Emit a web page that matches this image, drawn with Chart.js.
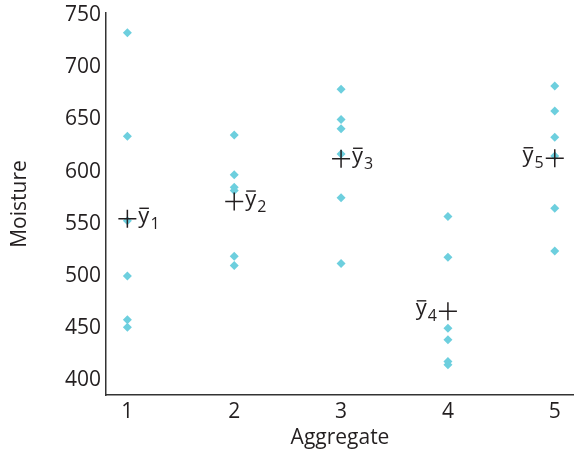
<!DOCTYPE html>
<html>
<head>
<meta charset="utf-8">
<script src="https://cdn.jsdelivr.net/npm/chart.js@4"></script>
<style>
  body { margin: 0; background: #fff; }
  #chart { display: block; }
</style>
</head>
<body>
<canvas id="chart" width="574" height="453"></canvas>
<script>
// Moisture readings per aggregate
const aggregates = [1, 2, 3, 4, 5];
const aggregate1 = [733, 634, 553, 500, 458, 451];
const aggregate2 = [635, 597, 585, 582, 519, 510];
const aggregate3 = [679, 650, 641, 617, 575, 512];
const aggregate4 = [557, 518, 450, 439, 418, 415];
const aggregate5 = [682, 658, 633, 615, 565, 524];
const yTicks = [400, 450, 500, 550, 600, 650, 700, 750];

const groups = [aggregate1, aggregate2, aggregate3, aggregate4, aggregate5];
const means = groups.map(g => g.reduce((a, b) => a + b, 0) / g.length);

const points = [];
groups.forEach((g, i) => {
    g.forEach(v => points.push({ x: aggregates[i], y: v }));
});
const meanPoints = means.map((m, i) => ({ x: aggregates[i], y: m }));

const textColor = '#231f20';
const fontFamily = '"Open Sans", "DejaVu Sans", sans-serif';

// draws the y-bar labels next to the mean crosses
const meanLabels = {
    id: 'meanLabels',
    afterDatasetsDraw(chart) {
        const { ctx, scales: { x, y } } = chart;
        const sides = ['right', 'right', 'right', 'left', 'left'];
        means.forEach((m, i) => {
            const px = x.getPixelForValue(aggregates[i]);
            const py = y.getPixelForValue(m);
            ctx.save();
            ctx.fillStyle = textColor;
            ctx.textBaseline = 'alphabetic';
            ctx.textAlign = 'left';
            ctx.font = '22px ' + fontFamily;
            const yw = ctx.measureText('y').width;
            ctx.font = '16px ' + fontFamily;
            const sub = String(aggregates[i]);
            const sw = ctx.measureText(sub).width;
            const total = yw + 1 + sw;
            const x0 = sides[i] === 'right' ? px + 11 : px - 11 - total;
            ctx.font = '22px ' + fontFamily;
            ctx.fillText('y', x0, py + 4);
            ctx.strokeStyle = textColor;
            ctx.lineWidth = 1.4;
            ctx.beginPath();
            ctx.moveTo(x0 + 1, py - 10.5);
            ctx.lineTo(x0 + yw - 0.5, py - 10.5);
            ctx.stroke();
            ctx.font = '16px ' + fontFamily;
            ctx.fillText(sub, x0 + yw + 1, py + 10);
            ctx.restore();
        });
    }
};

new Chart(document.getElementById('chart'), {
    type: 'scatter',
    data: {
        datasets: [
            {
                label: 'Mean',
                data: meanPoints,
                pointStyle: 'cross',
                pointRadius: 9,
                borderColor: textColor,
                borderWidth: 1.5
            },
            {
                label: 'Moisture',
                data: points,
                pointStyle: 'rectRot',
                pointRadius: 4.5,
                backgroundColor: '#6dcfde',
                borderColor: '#6dcfde',
                borderWidth: 0
            }
        ]
    },
    options: {
        responsive: false,
        animation: false,
        layout: { autoPadding: false, padding: { top: 13, right: 0, left: 7, bottom: 2 } },
        plugins: {
            legend: { display: false },
            tooltip: { enabled: false }
        },
        scales: {
            x: {
                type: 'linear',
                min: 0.8,
                max: 5.18,
                afterBuildTicks: scale => {
                    scale.ticks = aggregates.map(v => ({ value: v }));
                },
                afterFit: scale => {
                    scale.height = 56;
                    scale.paddingLeft = 0;
                    scale.paddingRight = 0;
                },
                grid: { display: false, drawTicks: false },
                border: { display: true, color: '#333', width: 1.5 },
                ticks: {
                    padding: 4,
                    color: textColor,
                    font: { family: fontFamily, size: 21 }
                },
                title: {
                    display: true,
                    text: 'Aggregate',
                    color: textColor,
                    padding: 0,
                    font: { family: fontFamily, size: 21 }
                }
            },
            y: {
                type: 'linear',
                min: 386,
                max: 752,
                afterBuildTicks: scale => {
                    scale.ticks = yTicks.map(v => ({ value: v }));
                },
                afterFit: scale => {
                    scale.width = 99;
                    scale.paddingTop = 0;
                    scale.paddingBottom = 0;
                },
                grid: { display: false, drawTicks: false },
                border: { display: true, color: '#333', width: 1.5 },
                ticks: {
                    padding: 5,
                    color: textColor,
                    font: { family: fontFamily, size: 21 }
                },
                title: {
                    display: true,
                    text: 'Moisture',
                    color: textColor,
                    padding: 0,
                    font: { family: fontFamily, size: 21 }
                }
            }
        }
    },
    plugins: [meanLabels]
});
</script>
</body>
</html>
